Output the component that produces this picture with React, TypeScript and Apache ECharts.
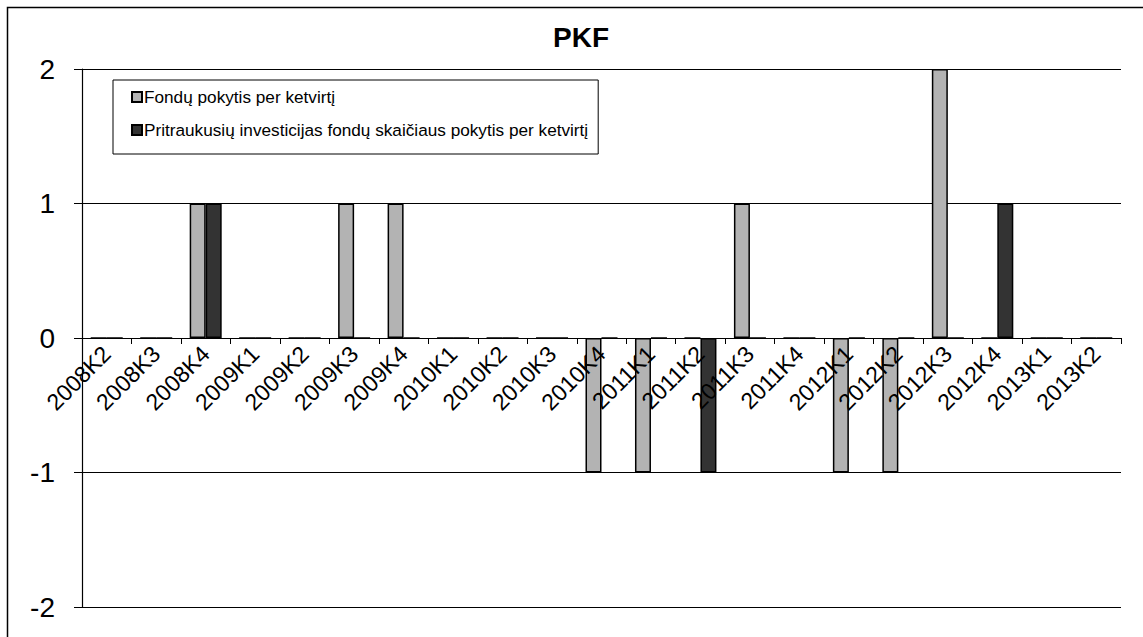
import React, { useEffect, useRef } from "react";
import * as echarts from "echarts";

const categories = [
  "2008K2", "2008K3", "2008K4",
  "2009K1", "2009K2", "2009K3", "2009K4",
  "2010K1", "2010K2", "2010K3", "2010K4",
  "2011K1", "2011K2", "2011K3", "2011K4",
  "2012K1", "2012K2", "2012K3", "2012K4",
  "2013K1", "2013K2",
];

const fundChange = [0, 0, 1, 0, 0, 1, 1, 0, 0, 0, -1, -1, 0, 1, 0, -1, -1, 2, 0, 0, 0];
const investingFundChange = [0, 0, 1, 0, 0, 0, 0, 0, 0, 0, 0, 0, -1, 0, 0, 0, 0, 0, 1, 0, 0];

const seriesNames = [
  "Fondų pokytis per ketvirtį",
  "Pritraukusių investicijas fondų skaičiaus pokytis per ketvirtį",
];

const yTicks = { min: -2, max: 2, interval: 1 };

export default function App() {
  const ref = useRef<HTMLDivElement>(null);

  useEffect(() => {
    if (!ref.current) return;
    const chart = echarts.init(ref.current, null, { renderer: "svg" });
    const font = "'Liberation Sans', Arial, sans-serif";
    const gridTop = 69;
    const gridBottom = 30;
    const H = 637;
    const zeroY = gridTop + ((H - gridTop - gridBottom) * yTicks.max) / (yTicks.max - yTicks.min);
    chart.setOption({
      animation: false,
      backgroundColor: "#ffffff",
      textStyle: { fontFamily: font },
      graphic: [
        {
          type: "rect",
          left: 5,
          top: 5,
          shape: { x: 0, y: 0, width: 1160, height: 660 },
          style: { fill: "none", stroke: "#000", lineWidth: 1.5 },
          z: 0,
        },
        {
          type: "text",
          x: 581,
          y: 37,
          style: {
            text: "PKF",
            fontSize: 28,
            fontWeight: "bold",
            fontFamily: font,
            fill: "#000",
            textAlign: "center",
            textVerticalAlign: "middle",
          },
        },
      ],
      legend: {
        orient: "vertical",
        left: 113,
        top: 80,
        padding: [7, 10, 14, 18],
        itemGap: 13,
        itemWidth: 10,
        itemHeight: 10,
        icon: "rect",
        borderColor: "#000",
        borderWidth: 1,
        backgroundColor: "#fff",
        textStyle: { fontSize: 17.2, color: "#000", fontFamily: font, lineHeight: 20, padding: [0, 0, 0, -3] },
        data: seriesNames,
      },
      grid: [
        { left: 82, right: 22, top: gridTop, bottom: gridBottom, containLabel: false, outerBoundsMode: "none" },
        { left: 82, right: 22, top: gridTop, bottom: H - zeroY, containLabel: false, outerBoundsMode: "none" },
      ],
      xAxis: [
        {
          type: "category",
          gridIndex: 0,
          data: categories,
          axisLine: { show: false },
          axisTick: { show: false },
          axisLabel: { show: false },
        },
        {
          type: "category",
          gridIndex: 1,
          data: categories,
          position: "bottom",
          z: 5,
          axisLine: { show: true, onZero: false, lineStyle: { color: "#000", width: 1.2 } },
          axisTick: { show: true, length: 6, lineStyle: { color: "#000" } },
          axisLabel: {
            rotate: 45,
            interval: 0,
            margin: 12,
            color: "#000",
            fontSize: 23,
            fontFamily: font,
          },
        },
      ],
      yAxis: [
        {
          type: "value",
          gridIndex: 0,
          min: yTicks.min,
          max: yTicks.max,
          interval: yTicks.interval,
          axisLine: { show: true, lineStyle: { color: "#000", width: 1.2 } },
          axisTick: { show: true, length: 8, lineStyle: { color: "#000" } },
          axisLabel: { fontSize: 28, color: "#000", margin: 27, fontFamily: font },
          splitLine: { show: true, lineStyle: { color: "#000", width: 1.2 } },
        },
        {
          type: "value",
          gridIndex: 1,
          min: 0,
          max: 1,
          show: false,
        },
      ],
      series: [
        {
          name: seriesNames[0],
          type: "bar",
          xAxisIndex: 0,
          yAxisIndex: 0,
          data: fundChange,
          barWidth: 16,
          barGap: "0%",
          itemStyle: { color: "#b3b3b3", borderColor: "#000", borderWidth: 1.5 },
        },
        {
          name: seriesNames[1],
          type: "bar",
          xAxisIndex: 0,
          yAxisIndex: 0,
          data: investingFundChange,
          barWidth: 16,
          barGap: "0%",
          itemStyle: { color: "#333333", borderColor: "#000", borderWidth: 1.5 },
        },
      ],
    });
    return () => chart.dispose();
  }, []);

  return (
    <div
      ref={ref}
      style={{ position: "fixed", left: 0, top: 0, width: 1143, height: 637 }}
    />
  );
}
